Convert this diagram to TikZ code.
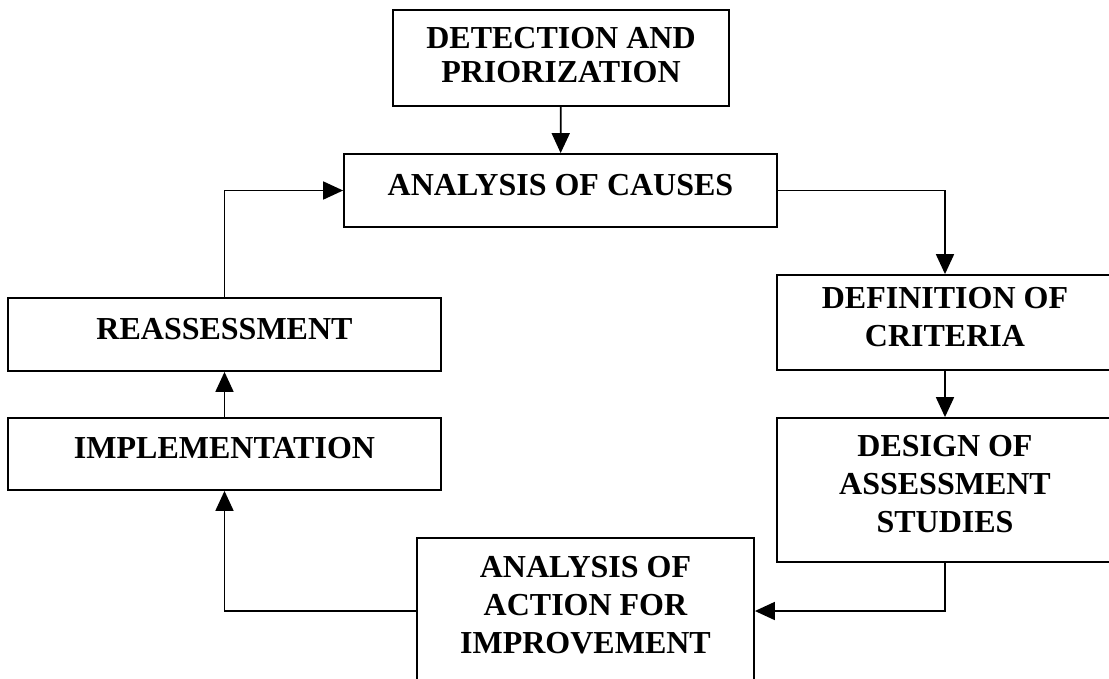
\documentclass[tikz,border=0pt]{standalone}
\usepackage{fontspec}
\setmainfont{Liberation Serif}
\usetikzlibrary{arrows.meta}

\begin{document}
\begin{tikzpicture}[x=1pt,y=-1pt,
  stage/.style={draw,line width=1.8pt,inner sep=0pt,align=center,text depth=12pt,
    font=\fontsize{32}{38}\selectfont\bfseries},
  flow/.style={line width=1.8pt,-{Triangle[length=20pt,width=18pt]}}]

\clip (0,0) rectangle (1109,678);

\node[stage,minimum width=336pt,minimum height=96pt,text depth=6pt,
  font=\fontsize{32}{34}\selectfont\bfseries] (detect) at (561,58) {DETECTION AND\\PRIORIZATION};
\node[stage,minimum width=433pt,minimum height=73pt] (causes) at (560.5,190.5) {ANALYSIS OF CAUSES};
\node[stage,minimum width=336pt,minimum height=95pt] (criteria) at (945,322.5) {DEFINITION OF\\CRITERIA};
\node[stage,minimum width=336pt,minimum height=144pt] (studies) at (945,490) {DESIGN OF\\ASSESSMENT\\STUDIES};
\node[stage,minimum width=337pt,minimum height=146pt] (action) at (585.5,611) {ANALYSIS OF\\ACTION FOR\\IMPROVEMENT};
\node[stage,minimum width=433pt,minimum height=72pt] (implement) at (224.5,454) {IMPLEMENTATION};
\node[stage,minimum width=433pt,minimum height=73pt] (reassess) at (224.5,334.5) {REASSESSMENT};

\draw[flow] (detect) -- (causes);
\draw[flow] (causes.east) -| (criteria.north);
\draw[flow] (criteria) -- (studies);
\draw[flow] (studies.south) |- (action.east);
\draw[flow] (action.west) -| (implement.south);
\draw[flow] (implement) -- (reassess);
\draw[flow] (reassess.north) |- (causes.west);

\end{tikzpicture}
\end{document}
